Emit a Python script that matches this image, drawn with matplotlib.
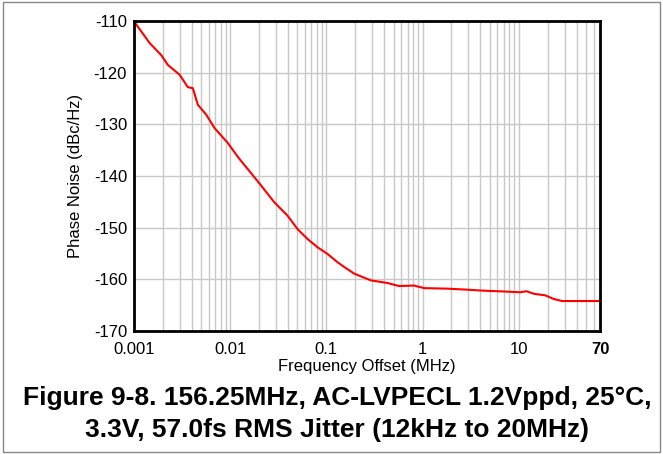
import matplotlib.pyplot as plt
from matplotlib.patches import Rectangle
from matplotlib.ticker import LogLocator, NullFormatter

plt.rcParams['font.family'] = ['Liberation Sans', 'DejaVu Sans']
plt.rcParams['axes.unicode_minus'] = False

# Datos (MHz, dBc/Hz)
freq = [0.001, 0.00103, 0.00146, 0.00192, 0.00225, 0.00298, 0.00363, 0.00409,
        0.00461, 0.00562, 0.00687, 0.00944, 0.0118, 0.013, 0.0193, 0.0288,
        0.0396, 0.0503, 0.0638, 0.0811, 0.103, 0.131, 0.153, 0.195, 0.29,
        0.431, 0.57, 0.816, 1.04, 1.81, 2.92, 4.35, 7.0, 10.4, 12.0, 14.4, 18.9,
        23.1, 28.2, 40, 70]
noise = [-110.0, -110.4, -114.3, -116.6, -118.5, -120.4, -122.8, -123.0,
         -126.2, -128.1, -130.7, -133.6, -136.1, -137.1, -141.0, -145.1,
         -147.7, -150.3, -152.2, -153.8, -155.1, -156.7, -157.6, -158.9, -160.2,
         -160.7, -161.3, -161.2, -161.7, -161.8, -162.0, -162.2, -162.35, -162.5, -162.3, -162.8, -163.1,
         -163.8, -164.2, -164.2, -164.2]

xticks = [0.001, 0.01, 0.1, 1, 10, 70]
xlabels = ['0.001', '0.01', '0.1', '1', '10', '70']
yticks = [-170, -160, -150, -140, -130, -120, -110]

fig = plt.figure(figsize=(6.63, 4.54), dpi=100)
ax = fig.add_axes([0.2021, 0.2709, 0.7029, 0.6828])

ax.plot(freq, noise, color='red', linewidth=1.5)

ax.set_xscale('log')
ax.set_xlim(0.001, 70)
ax.set_ylim(-170, -110)

# Rejilla mayor y menor
ax.xaxis.set_minor_locator(LogLocator(base=10, subs=range(2, 10)))
ax.xaxis.set_minor_formatter(NullFormatter())
ax.grid(True, which='both', color='#c8c8c8', linewidth=1)
ax.set_axisbelow(True)

ax.set_xticks(xticks)
ax.set_xticklabels(xlabels)
ax.set_yticks(yticks)
ax.tick_params(which='both', length=0, labelsize=12)
ax.tick_params(axis='x', pad=8)
ax.tick_params(axis='y', pad=5)
ax.get_xticklabels()[-1].set_fontweight('bold')

for s in ax.spines.values():
    s.set_linewidth(2)
    s.set_color('black')

ax.set_xlabel('Frequency Offset (MHz)', fontsize=12, labelpad=1)
ax.set_ylabel('Phase Noise (dBc/Hz)', fontsize=12, labelpad=8)

fig.text(0.508, 0.108, 'Figure 9-8. 156.25MHz, AC-LVPECL 1.2Vppd, 25°C,',
         ha='center', va='baseline', fontsize=19, fontweight='bold')
fig.text(0.508, 0.037, '3.3V, 57.0fs RMS Jitter (12kHz to 20MHz)',
         ha='center', va='baseline', fontsize=19, fontweight='bold')

# Marco alrededor de la figura
fig.patches.append(Rectangle((0.004, 0.004), 0.992, 0.992, transform=fig.transFigure,
                             fill=False, edgecolor='#888888', linewidth=1))

fig.savefig('out.png', dpi=100)
